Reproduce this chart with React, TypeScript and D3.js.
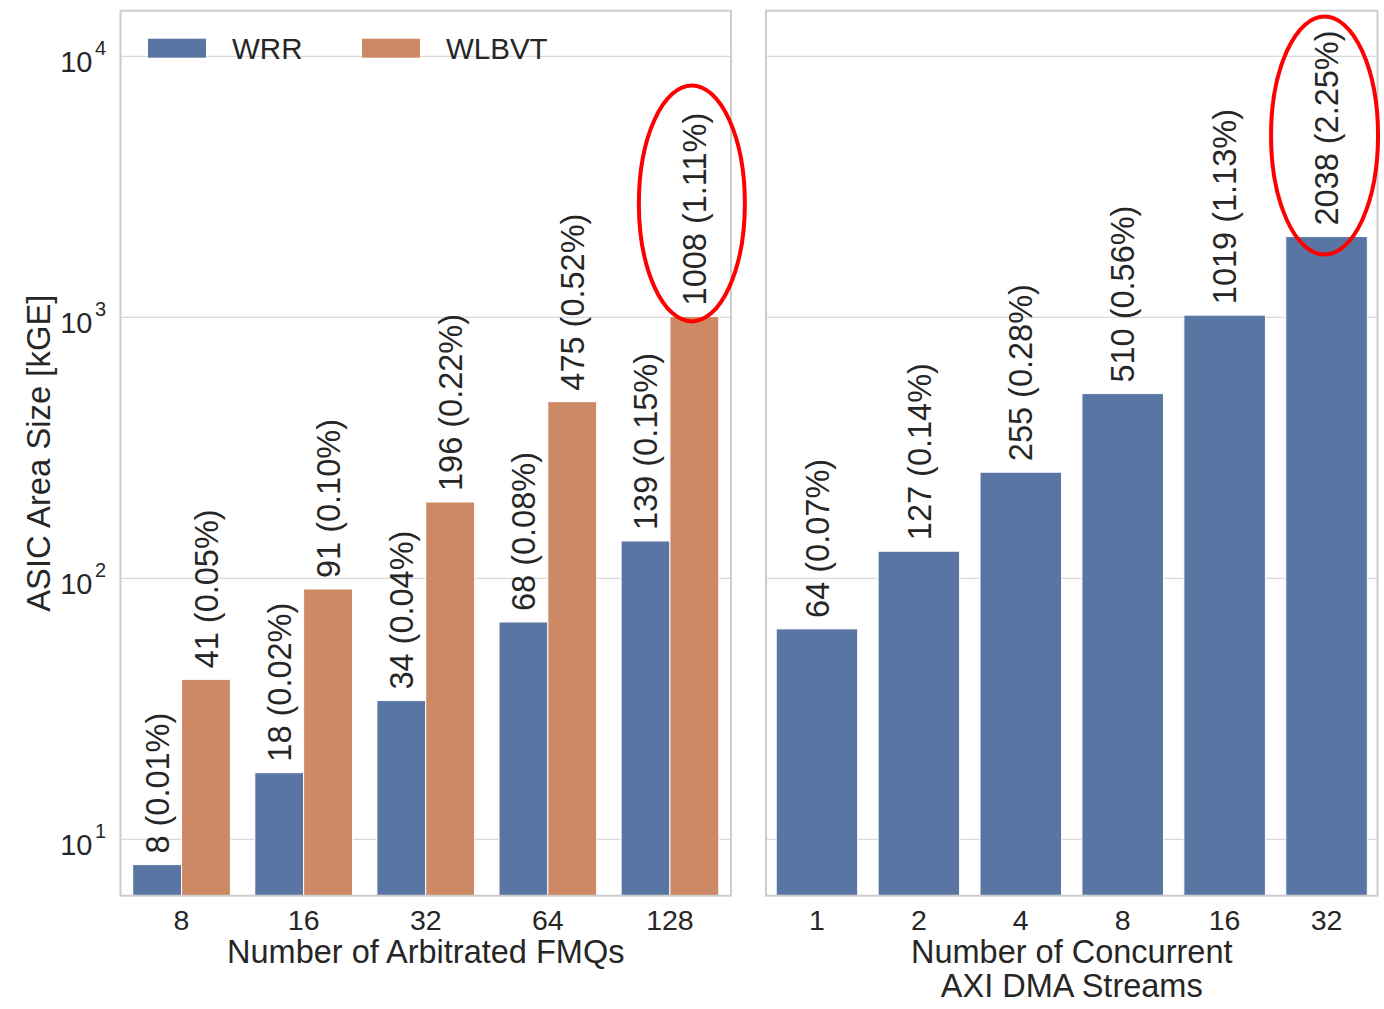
import React from "react";
import * as d3 from "d3";

const fmqCategories = ["8", "16", "32", "64", "128"];
const wrrValues = [8, 18, 34, 68, 139];
const wrrPct = ["0.01%", "0.02%", "0.04%", "0.08%", "0.15%"];
const wlbvtValues = [41, 91, 196, 475, 1008];
const wlbvtPct = ["0.05%", "0.10%", "0.22%", "0.52%", "1.11%"];

const streamCategories = ["1", "2", "4", "8", "16", "32"];
const streamValues = [64, 127, 255, 510, 1019, 2038];
const streamPct = ["0.07%", "0.14%", "0.28%", "0.56%", "1.13%", "2.25%"];

const yTickExps = [1, 2, 3, 4];
const seriesNames = ["WRR", "WLBVT"];

const BLUE = "#5975a4";
const ORANGE = "#cc8963";
const GRID = "#d9d9d9";
const SPINE = "#cccccc";
const TEXT = "#262626";
const FONT = "'Liberation Sans', Arial, sans-serif";

export default function App() {
  const W = 1384, H = 1009;
  const top = 10.7, bottom = 895.7;
  const L1 = 120.5, R1 = 731;
  const L2 = 766, R2 = 1377.5;

  const y = d3.scaleLog().domain([6.08, 14950]).range([bottom, top]);
  const x1 = d3.scaleBand().domain(fmqCategories).range([L1, R1]).paddingInner(0).paddingOuter(0);
  const x1Inner = d3.scaleBand().domain(seriesNames).range([0, x1.bandwidth() * 0.8]);
  const x2 = d3.scaleBand().domain(streamCategories).range([L2, R2]).paddingInner(0.2).paddingOuter(0.1);

  const labelFs = 32.5;
  const barFs = 32.5;
  const tickFs = 28.5;
  const labelGap = 11;

  const barLabel = (cx: number, val: number, pct: string, key: string) => {
    const ty = y(val) - labelGap;
    return (
      <text
        key={key}
        transform={`translate(${cx},${ty}) rotate(-90)`}
        dy="0.36em"
        fontSize={barFs}
        fill={TEXT}
        textAnchor="start"
      >{`${val} (${pct})`}</text>
    );
  };

  const gridLines = (l: number, r: number, k: string) =>
    yTickExps.map((e) => (
      <line key={k + e} x1={l} x2={r} y1={y(Math.pow(10, e))} y2={y(Math.pow(10, e))} stroke={GRID} strokeWidth={1.2} />
    ));

  const frame = (l: number, r: number) => (
    <rect x={l} y={top} width={r - l} height={bottom - top} fill="none" stroke={SPINE} strokeWidth={2} />
  );

  const x1Off = x1.bandwidth() * 0.1;

  // annotation ellipses
  const ell1cx = (x1("128") as number) + x1Off + (x1Inner("WLBVT") as number) + x1Inner.bandwidth() / 2 - 2.5;
  const ell1cy = y(wlbvtValues[4]) - 113;
  const ell2cx = (x2("32") as number) + x2.bandwidth() / 2 - 2;
  const ell2cy = y(streamValues[5]) - 101;

  return (
    <svg width={W} height={H} style={{ position: "absolute", left: 0, top: 0, fontFamily: FONT }}>
      <rect x={0} y={0} width={W} height={H} fill="white" />
      {gridLines(L1, R1, "g1")}
      {gridLines(L2, R2, "g2")}

      {/* Left panel bars */}
      {fmqCategories.map((c, i) => {
        const bx = (x1(c) as number) + x1Off;
        const bw = x1Inner.bandwidth();
        const xw = bx + (x1Inner("WRR") as number);
        const xo = bx + (x1Inner("WLBVT") as number);
        return (
          <g key={c}>
            <rect x={xw} y={y(wrrValues[i])} width={bw} height={bottom - y(wrrValues[i])} fill={BLUE} stroke="white" strokeWidth={1} />
            <rect x={xo} y={y(wlbvtValues[i])} width={bw} height={bottom - y(wlbvtValues[i])} fill={ORANGE} stroke="white" strokeWidth={1} />
          </g>
        );
      })}
      {fmqCategories.map((c, i) => {
        const bx = (x1(c) as number) + x1Off;
        const bw = x1Inner.bandwidth();
        return (
          <g key={"l" + c}>
            {barLabel(bx + (x1Inner("WRR") as number) + bw / 2, wrrValues[i], wrrPct[i], "a" + c)}
            {barLabel(bx + (x1Inner("WLBVT") as number) + bw / 2, wlbvtValues[i], wlbvtPct[i], "b" + c)}
          </g>
        );
      })}

      {/* Right panel bars */}
      {streamCategories.map((c, i) => (
        <rect key={"s" + c} x={x2(c) as number} y={y(streamValues[i])} width={x2.bandwidth()} height={bottom - y(streamValues[i])} fill={BLUE} stroke="white" strokeWidth={1} />
      ))}
      {streamCategories.map((c, i) =>
        barLabel((x2(c) as number) + x2.bandwidth() / 2, streamValues[i], streamPct[i], "s" + c)
      )}

      {frame(L1, R1)}
      {frame(L2, R2)}

      {/* Y ticks */}
      {yTickExps.map((e) => {
        const ty = y(Math.pow(10, e));
        return (
          <g key={"yt" + e}>
            <text x={92.5} y={ty + 16} fontSize={29} fill={TEXT} textAnchor="end">10</text>
            <text x={95} y={ty - 1.5} fontSize={20} fill={TEXT} textAnchor="start">{e}</text>
          </g>
        );
      })}

      {/* X ticks */}
      {fmqCategories.map((c) => (
        <text key={"xt1" + c} x={(x1(c) as number) + x1.bandwidth() / 2} y={930} fontSize={tickFs} fill={TEXT} textAnchor="middle">{c}</text>
      ))}
      {streamCategories.map((c) => (
        <text key={"xt2" + c} x={(x2(c) as number) + x2.bandwidth() / 2} y={930} fontSize={tickFs} fill={TEXT} textAnchor="middle">{c}</text>
      ))}

      {/* Axis labels */}
      <text x={(L1 + R1) / 2} y={962.5} fontSize={labelFs} fill={TEXT} textAnchor="middle">Number of Arbitrated FMQs</text>
      <text x={(L2 + R2) / 2} y={962.5} fontSize={labelFs} fill={TEXT} textAnchor="middle">Number of Concurrent</text>
      <text x={(L2 + R2) / 2} y={996.5} fontSize={labelFs} fill={TEXT} textAnchor="middle">AXI DMA Streams</text>
      <text transform={`translate(50,${(top + bottom) / 2}) rotate(-90)`} fontSize={32.8} fill={TEXT} textAnchor="middle">ASIC Area Size [kGE]</text>

      {/* Legend */}
      {seriesNames.map((s, i) => (
        <g key={"lg" + s} transform={`translate(${148 + i * 214},0)`}>
          <rect x={0} y={38.7} width={58} height={19} fill={i === 0 ? BLUE : ORANGE} />
          <text x={84} y={59} fontSize={29.5} fill={TEXT}>{s}</text>
        </g>
      ))}

      {/* Annotation ellipses */}
      <ellipse cx={ell1cx} cy={ell1cy} rx={53} ry={118} fill="none" stroke="#ff0000" strokeWidth={4} />
      <ellipse cx={ell2cx} cy={ell2cy} rx={53.5} ry={119} fill="none" stroke="#ff0000" strokeWidth={4} />
    </svg>
  );
}
